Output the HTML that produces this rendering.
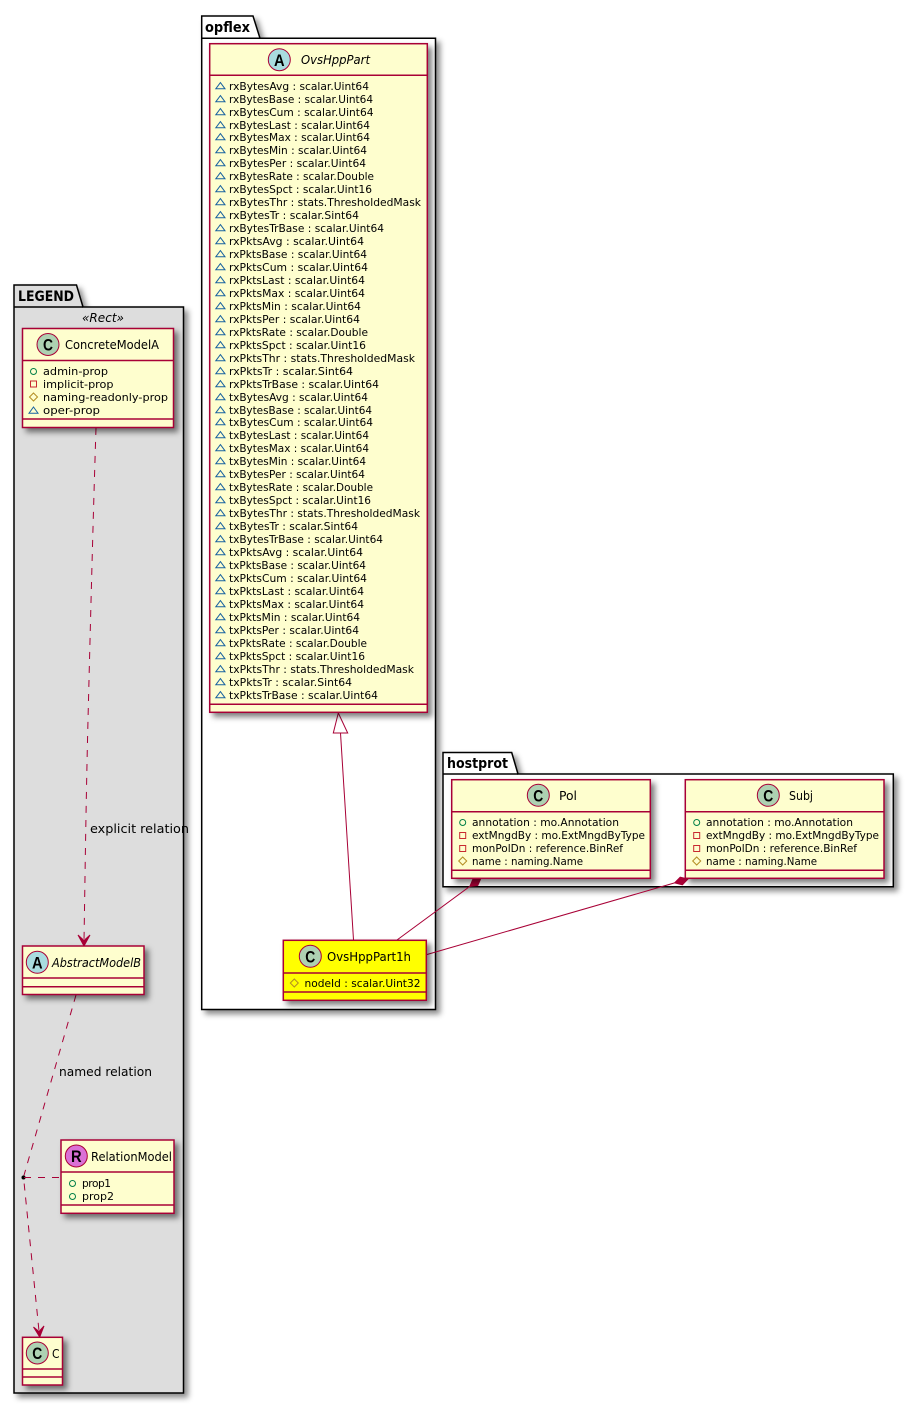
<!DOCTYPE html>
<html><head><meta charset="utf-8"><style>
html,body{margin:0;padding:0;background:#fff}
svg{display:block}
text{font-family:"DejaVu Sans","Liberation Sans",sans-serif;fill:#000}
.r{font-size:10.6px}
.n{font-size:12.6px}
.l{font-size:12.4px}
.i{font-style:italic}
.p{font-size:14px;font-weight:bold}
.g{font-size:17px;font-weight:bold;font-family:"Liberation Sans",sans-serif}
.pk{filter:drop-shadow(4px 4px 3px rgba(0,0,0,.45))}
.b{filter:drop-shadow(4px 4px 3px rgba(0,0,0,.5))}
.bx{fill:#FEFECE;stroke:#A80036;stroke-width:1.5}
.dv{stroke:#A80036;stroke-width:1.5;fill:none}
.lk{stroke:#A80036;stroke-width:1;fill:none}
.da{stroke-dasharray:7 7}
.c{stroke:#A80036;stroke-width:1}
.pub{fill:none;stroke:#038048;stroke-width:1}
.pri{fill:none;stroke:#C82930;stroke-width:1}
.pro{fill:none;stroke:#B38D22;stroke-width:1}
.pkg{fill:none;stroke:#1963A0;stroke-width:1}
</style></head><body>
<svg xmlns="http://www.w3.org/2000/svg" width="914" height="1404" viewBox="0 0 914 1404">
<!-- LEGEND -->
<g class="pk"><path d="M14 307V285H76.5L83 307H183.5V1393H14Z" fill="#DDDDDD" stroke="#000" stroke-width="1.5"/></g>
<path d="M14 307H83" stroke="#000" stroke-width="1.5"/>
<text class="p" x="18" y="301" textLength="56" lengthAdjust="spacingAndGlyphs">LEGEND</text>
<text class="l i" x="82" y="322" textLength="42" lengthAdjust="spacingAndGlyphs">«Rect»</text>
<!-- opflex -->
<g class="pk"><path d="M201.7 38.3V16H253L260 38.3H435.5V1009.5H201.7Z" fill="#fff" stroke="#000" stroke-width="1.5"/></g>
<path d="M201.7 38.3H260" stroke="#000" stroke-width="1.5"/>
<text class="p" x="205" y="32" textLength="45" lengthAdjust="spacingAndGlyphs">opflex</text>
<!-- hostprot -->
<g class="pk"><path d="M443 774V752.5H511.7L518 774H893.3V886.7H443Z" fill="#fff" stroke="#000" stroke-width="1.5"/></g>
<path d="M443 774H518" stroke="#000" stroke-width="1.5"/>
<text class="p" x="447" y="768" textLength="61" lengthAdjust="spacingAndGlyphs">hostprot</text>

<!-- connectors -->
<path class="lk da" d="M96 428C93 520 90 640 88 720C86 800 85 880 84 941"/>
<path d="M84 946L78 935L84 940.5L90 935Z" fill="#A80036" stroke="#A80036"/>
<text class="l" x="90" y="833" textLength="99" lengthAdjust="spacingAndGlyphs">explicit relation</text>
<path class="lk da" d="M76 995L23.5 1177L39 1331"/>
<path d="M39.7 1337L33.5 1327L39 1331.5L44 1326Z" fill="#A80036" stroke="#A80036"/>
<text class="l" x="59" y="1076" textLength="93" lengthAdjust="spacingAndGlyphs">named relation</text>
<circle cx="23.5" cy="1177.5" r="2" fill="#000"/>
<path class="lk da" d="M24 1177.5H61"/>
<path class="lk" d="M340.5 733L353.5 940"/>
<path d="M338.3 713L347.7 733H333.3Z" fill="#fff" stroke="#A80036"/>
<path class="lk" d="M469.8 886.4L397 940"/>
<path d="M481 878L477.8 885.4L469.8 886.4L473 879Z" fill="#A80036" stroke="#A80036"/>
<path class="lk" d="M674.6 882.9L427 954.5"/>
<path d="M688 879L682.4 884.8L674.6 882.9L680.2 877.2Z" fill="#A80036" stroke="#A80036"/>

<!-- ConcreteModelA -->
<g class="b"><rect class="bx" x="22.5" y="328.5" width="151" height="99"/></g>
<path class="dv" d="M22.5 360.5H173.5M22.5 419H173.5"/>
<circle class="c" cx="48" cy="344.5" r="11" fill="#ADD1B2"/><text class="g" x="43" y="350.5" textLength="10" lengthAdjust="spacingAndGlyphs">C</text>
<text class="n" x="65" y="349" textLength="94" lengthAdjust="spacingAndGlyphs">ConcreteModelA</text>
<circle class="pub" cx="33.5" cy="371.5" r="3"/><rect class="pri" x="30.5" y="381" width="6" height="6"/><path class="pro" d="M33.5 393L37.5 397L33.5 401L29.5 397Z"/><path class="pkg" d="M33.5 407L38 413.2H29Z"/>
<text class="r" x="43" y="375" textLength="65" lengthAdjust="spacingAndGlyphs">admin-prop</text>
<text class="r" x="43" y="388" textLength="70.5" lengthAdjust="spacingAndGlyphs">implicit-prop</text>
<text class="r" x="43" y="401" textLength="125" lengthAdjust="spacingAndGlyphs">naming-readonly-prop</text>
<text class="r" x="43" y="414" textLength="57" lengthAdjust="spacingAndGlyphs">oper-prop</text>

<!-- AbstractModelB -->
<g class="b"><rect class="bx" x="22.5" y="946" width="121.5" height="48.5"/></g>
<path class="dv" d="M22.5 978H144M22.5 986.7H144"/>
<circle class="c" cx="37.3" cy="962.3" r="11" fill="#A9DCDF"/><text class="g" x="32" y="968.5" textLength="10.6" lengthAdjust="spacingAndGlyphs">A</text>
<text class="n i" x="52" y="967" textLength="89" lengthAdjust="spacingAndGlyphs">AbstractModelB</text>

<!-- RelationModel -->
<g class="b"><rect class="bx" x="61" y="1140" width="113" height="73.3"/></g>
<path class="dv" d="M61 1172H174M61 1205H174"/>
<circle class="c" cx="76.3" cy="1156" r="11" fill="#DA70D6"/><text class="g" x="71" y="1162" textLength="10.6" lengthAdjust="spacingAndGlyphs">R</text>
<text class="n" x="91" y="1161" textLength="81" lengthAdjust="spacingAndGlyphs">RelationModel</text>
<circle class="pub" cx="72.5" cy="1183.5" r="3"/><circle class="pub" cx="72.5" cy="1196.5" r="3"/>
<text class="r" x="82" y="1187" textLength="29" lengthAdjust="spacing">prop1</text>
<text class="r" x="82" y="1200" textLength="32" lengthAdjust="spacingAndGlyphs">prop2</text>

<!-- C -->
<g class="b"><rect class="bx" x="22.5" y="1337.3" width="40" height="47.7"/></g>
<path class="dv" d="M22.5 1369H62.5M22.5 1377H62.5"/>
<circle class="c" cx="37.3" cy="1353" r="11" fill="#ADD1B2"/><text class="g" x="32.3" y="1359" textLength="10" lengthAdjust="spacingAndGlyphs">C</text>
<text class="n" x="52" y="1358" textLength="7.5" lengthAdjust="spacingAndGlyphs">C</text>

<!-- OvsHppPart -->
<g class="b"><rect class="bx" x="209.7" y="43.7" width="217.6" height="668.6"/></g>
<path class="dv" d="M209.7 75.3H427.3M209.7 704.3H427.3"/>
<circle class="c" cx="279.3" cy="59.7" r="11" fill="#A9DCDF"/><text class="g" x="274" y="65.9" textLength="10.6" lengthAdjust="spacingAndGlyphs">A</text>
<text class="n i" x="301" y="64" textLength="69" lengthAdjust="spacingAndGlyphs">OvsHppPart</text>
<path class="pkg" d="M220.4 82.6l4.6 6.2h-9.2zm0 13l4.6 6.2h-9.2zm0 13l4.6 6.2h-9.2zm0 13l4.6 6.2h-9.2zm0 12l4.6 6.2h-9.2zm0 13l4.6 6.2h-9.2zm0 13l4.6 6.2h-9.2zm0 13l4.6 6.2h-9.2zm0 13l4.6 6.2h-9.2zm0 13l4.6 6.2h-9.2zm0 13l4.6 6.2h-9.2zm0 13l4.6 6.2h-9.2zm0 13l4.6 6.2h-9.2zm0 13l4.6 6.2h-9.2zm0 13l4.6 6.2h-9.2zm0 13l4.6 6.2h-9.2zm0 13l4.6 6.2h-9.2zm0 13l4.6 6.2h-9.2zm0 13l4.6 6.2h-9.2zm0 13l4.6 6.2h-9.2zm0 13l4.6 6.2h-9.2zm0 13l4.6 6.2h-9.2zm0 13l4.6 6.2h-9.2zm0 13l4.6 6.2h-9.2zm0 13l4.6 6.2h-9.2zm0 13l4.6 6.2h-9.2zm0 12l4.6 6.2h-9.2zm0 13l4.6 6.2h-9.2zm0 13l4.6 6.2h-9.2zm0 13l4.6 6.2h-9.2zm0 13l4.6 6.2h-9.2zm0 13l4.6 6.2h-9.2zm0 13l4.6 6.2h-9.2zm0 13l4.6 6.2h-9.2zm0 13l4.6 6.2h-9.2zm0 13l4.6 6.2h-9.2zm0 13l4.6 6.2h-9.2zm0 13l4.6 6.2h-9.2zm0 13l4.6 6.2h-9.2zm0 13l4.6 6.2h-9.2zm0 13l4.6 6.2h-9.2zm0 13l4.6 6.2h-9.2zm0 13l4.6 6.2h-9.2zm0 13l4.6 6.2h-9.2zm0 13l4.6 6.2h-9.2zm0 13l4.6 6.2h-9.2zm0 13l4.6 6.2h-9.2zm0 13l4.6 6.2h-9.2z"/>
<text class="r" x="229" y="90" textLength="140" lengthAdjust="spacingAndGlyphs">rxBytesAvg : scalar.Uint64</text>
<text class="r" x="229" y="103" textLength="144" lengthAdjust="spacingAndGlyphs">rxBytesBase : scalar.Uint64</text>
<text class="r" x="229" y="116" textLength="144.5" lengthAdjust="spacingAndGlyphs">rxBytesCum : scalar.Uint64</text>
<text class="r" x="229" y="129" textLength="141" lengthAdjust="spacingAndGlyphs">rxBytesLast : scalar.Uint64</text>
<text class="r" x="229" y="141" textLength="141" lengthAdjust="spacingAndGlyphs">rxBytesMax : scalar.Uint64</text>
<text class="r" x="229" y="154" textLength="138" lengthAdjust="spacingAndGlyphs">rxBytesMin : scalar.Uint64</text>
<text class="r" x="229" y="167" textLength="137" lengthAdjust="spacingAndGlyphs">rxBytesPer : scalar.Uint64</text>
<text class="r" x="229" y="180" textLength="145" lengthAdjust="spacingAndGlyphs">rxBytesRate : scalar.Double</text>
<text class="r" x="229" y="193" textLength="143" lengthAdjust="spacingAndGlyphs">rxBytesSpct : scalar.Uint16</text>
<text class="r" x="229" y="206" textLength="192" lengthAdjust="spacingAndGlyphs">rxBytesThr : stats.ThresholdedMask</text>
<text class="r" x="229" y="219" textLength="130" lengthAdjust="spacingAndGlyphs">rxBytesTr : scalar.Sint64</text>
<text class="r" x="229" y="232" textLength="155" lengthAdjust="spacingAndGlyphs">rxBytesTrBase : scalar.Uint64</text>
<text class="r" x="229" y="245" textLength="135" lengthAdjust="spacingAndGlyphs">rxPktsAvg : scalar.Uint64</text>
<text class="r" x="229" y="258" textLength="138" lengthAdjust="spacingAndGlyphs">rxPktsBase : scalar.Uint64</text>
<text class="r" x="229" y="271" textLength="139" lengthAdjust="spacingAndGlyphs">rxPktsCum : scalar.Uint64</text>
<text class="r" x="229" y="284" textLength="136" lengthAdjust="spacingAndGlyphs">rxPktsLast : scalar.Uint64</text>
<text class="r" x="229" y="297" textLength="136" lengthAdjust="spacingAndGlyphs">rxPktsMax : scalar.Uint64</text>
<text class="r" x="229" y="310" textLength="132" lengthAdjust="spacingAndGlyphs">rxPktsMin : scalar.Uint64</text>
<text class="r" x="229" y="323" textLength="131" lengthAdjust="spacingAndGlyphs">rxPktsPer : scalar.Uint64</text>
<text class="r" x="229" y="336" textLength="139" lengthAdjust="spacingAndGlyphs">rxPktsRate : scalar.Double</text>
<text class="r" x="229" y="349" textLength="137" lengthAdjust="spacingAndGlyphs">rxPktsSpct : scalar.Uint16</text>
<text class="r" x="229" y="362" textLength="186" lengthAdjust="spacingAndGlyphs">rxPktsThr : stats.ThresholdedMask</text>
<text class="r" x="229" y="375" textLength="124" lengthAdjust="spacingAndGlyphs">rxPktsTr : scalar.Sint64</text>
<text class="r" x="229" y="388" textLength="150" lengthAdjust="spacingAndGlyphs">rxPktsTrBase : scalar.Uint64</text>
<text class="r" x="229" y="401" textLength="139" lengthAdjust="spacingAndGlyphs">txBytesAvg : scalar.Uint64</text>
<text class="r" x="229" y="414" textLength="143" lengthAdjust="spacingAndGlyphs">txBytesBase : scalar.Uint64</text>
<text class="r" x="229" y="426" textLength="144" lengthAdjust="spacingAndGlyphs">txBytesCum : scalar.Uint64</text>
<text class="r" x="229" y="439" textLength="140" lengthAdjust="spacingAndGlyphs">txBytesLast : scalar.Uint64</text>
<text class="r" x="229" y="452" textLength="140" lengthAdjust="spacingAndGlyphs">txBytesMax : scalar.Uint64</text>
<text class="r" x="229" y="465" textLength="137" lengthAdjust="spacingAndGlyphs">txBytesMin : scalar.Uint64</text>
<text class="r" x="229" y="478" textLength="136" lengthAdjust="spacingAndGlyphs">txBytesPer : scalar.Uint64</text>
<text class="r" x="229" y="491" textLength="144" lengthAdjust="spacingAndGlyphs">txBytesRate : scalar.Double</text>
<text class="r" x="229" y="504" textLength="142" lengthAdjust="spacingAndGlyphs">txBytesSpct : scalar.Uint16</text>
<text class="r" x="229" y="517" textLength="191" lengthAdjust="spacingAndGlyphs">txBytesThr : stats.ThresholdedMask</text>
<text class="r" x="229" y="530" textLength="129" lengthAdjust="spacingAndGlyphs">txBytesTr : scalar.Sint64</text>
<text class="r" x="229" y="543" textLength="154" lengthAdjust="spacingAndGlyphs">txBytesTrBase : scalar.Uint64</text>
<text class="r" x="229" y="556" textLength="134" lengthAdjust="spacingAndGlyphs">txPktsAvg : scalar.Uint64</text>
<text class="r" x="229" y="569" textLength="137" lengthAdjust="spacingAndGlyphs">txPktsBase : scalar.Uint64</text>
<text class="r" x="229" y="582" textLength="138" lengthAdjust="spacingAndGlyphs">txPktsCum : scalar.Uint64</text>
<text class="r" x="229" y="595" textLength="135" lengthAdjust="spacingAndGlyphs">txPktsLast : scalar.Uint64</text>
<text class="r" x="229" y="608" textLength="135" lengthAdjust="spacingAndGlyphs">txPktsMax : scalar.Uint64</text>
<text class="r" x="229" y="621" textLength="131" lengthAdjust="spacingAndGlyphs">txPktsMin : scalar.Uint64</text>
<text class="r" x="229" y="634" textLength="130" lengthAdjust="spacingAndGlyphs">txPktsPer : scalar.Uint64</text>
<text class="r" x="229" y="647" textLength="138" lengthAdjust="spacingAndGlyphs">txPktsRate : scalar.Double</text>
<text class="r" x="229" y="660" textLength="136" lengthAdjust="spacingAndGlyphs">txPktsSpct : scalar.Uint16</text>
<text class="r" x="229" y="673" textLength="185" lengthAdjust="spacingAndGlyphs">txPktsThr : stats.ThresholdedMask</text>
<text class="r" x="229" y="686" textLength="123" lengthAdjust="spacingAndGlyphs">txPktsTr : scalar.Sint64</text>
<text class="r" x="229" y="699" textLength="149" lengthAdjust="spacingAndGlyphs">txPktsTrBase : scalar.Uint64</text>

<!-- OvsHppPart1h -->
<g class="b"><rect x="283.3" y="940.3" width="143" height="60" fill="#FFFF00" stroke="#A80036" stroke-width="1.5"/></g>
<path class="dv" d="M283.3 973H426.3M283.3 992H426.3"/>
<circle class="c" cx="310.3" cy="956.3" r="11" fill="#ADD1B2"/><text class="g" x="305.3" y="962.3" textLength="10" lengthAdjust="spacingAndGlyphs">C</text>
<text class="n" x="327" y="961" textLength="84" lengthAdjust="spacingAndGlyphs">OvsHppPart1h</text>
<path class="pro" d="M294.3 979L298.3 983L294.3 987L290.3 983Z"/>
<text class="r" x="304.5" y="987" textLength="116" lengthAdjust="spacingAndGlyphs">nodeId : scalar.Uint32</text>

<!-- Pol -->
<g class="b"><rect class="bx" x="451.7" y="779.7" width="198.6" height="98.6"/></g>
<path class="dv" d="M451.7 811.7H650.3M451.7 870.3H650.3"/>
<circle class="c" cx="538.3" cy="795.3" r="11" fill="#ADD1B2"/><text class="g" x="533.3" y="801.3" textLength="10" lengthAdjust="spacingAndGlyphs">C</text>
<text class="n" x="559" y="800" textLength="18" lengthAdjust="spacingAndGlyphs">Pol</text>
<circle class="pub" cx="462.7" cy="822.5" r="3"/><rect class="pri" x="459.7" y="832.5" width="6" height="6"/><rect class="pri" x="459.7" y="845.5" width="6" height="6"/><path class="pro" d="M462.7 857L466.7 861L462.7 865L458.7 861Z"/>
<text class="r" x="472" y="826" textLength="147" lengthAdjust="spacingAndGlyphs">annotation : mo.Annotation</text>
<text class="r" x="472" y="839" textLength="173" lengthAdjust="spacingAndGlyphs">extMngdBy : mo.ExtMngdByType</text>
<text class="r" x="472" y="852" textLength="151" lengthAdjust="spacingAndGlyphs">monPolDn : reference.BinRef</text>
<text class="r" x="472" y="865" textLength="111" lengthAdjust="spacingAndGlyphs">name : naming.Name</text>

<!-- Subj -->
<g class="b"><rect class="bx" x="685.3" y="779.7" width="198.7" height="98.6"/></g>
<path class="dv" d="M685.3 811.7H884M685.3 870.3H884"/>
<circle class="c" cx="768.3" cy="795.3" r="11" fill="#ADD1B2"/><text class="g" x="763.3" y="801.3" textLength="10" lengthAdjust="spacingAndGlyphs">C</text>
<text class="n" x="789" y="800" textLength="24" lengthAdjust="spacingAndGlyphs">Subj</text>
<circle class="pub" cx="696.7" cy="822.5" r="3"/><rect class="pri" x="693.7" y="832.5" width="6" height="6"/><rect class="pri" x="693.7" y="845.5" width="6" height="6"/><path class="pro" d="M696.7 857L700.7 861L696.7 865L692.7 861Z"/>
<text class="r" x="706" y="826" textLength="147" lengthAdjust="spacingAndGlyphs">annotation : mo.Annotation</text>
<text class="r" x="706" y="839" textLength="173" lengthAdjust="spacingAndGlyphs">extMngdBy : mo.ExtMngdByType</text>
<text class="r" x="706" y="852" textLength="151" lengthAdjust="spacingAndGlyphs">monPolDn : reference.BinRef</text>
<text class="r" x="706" y="865" textLength="111" lengthAdjust="spacingAndGlyphs">name : naming.Name</text>
</svg>
</body></html>
